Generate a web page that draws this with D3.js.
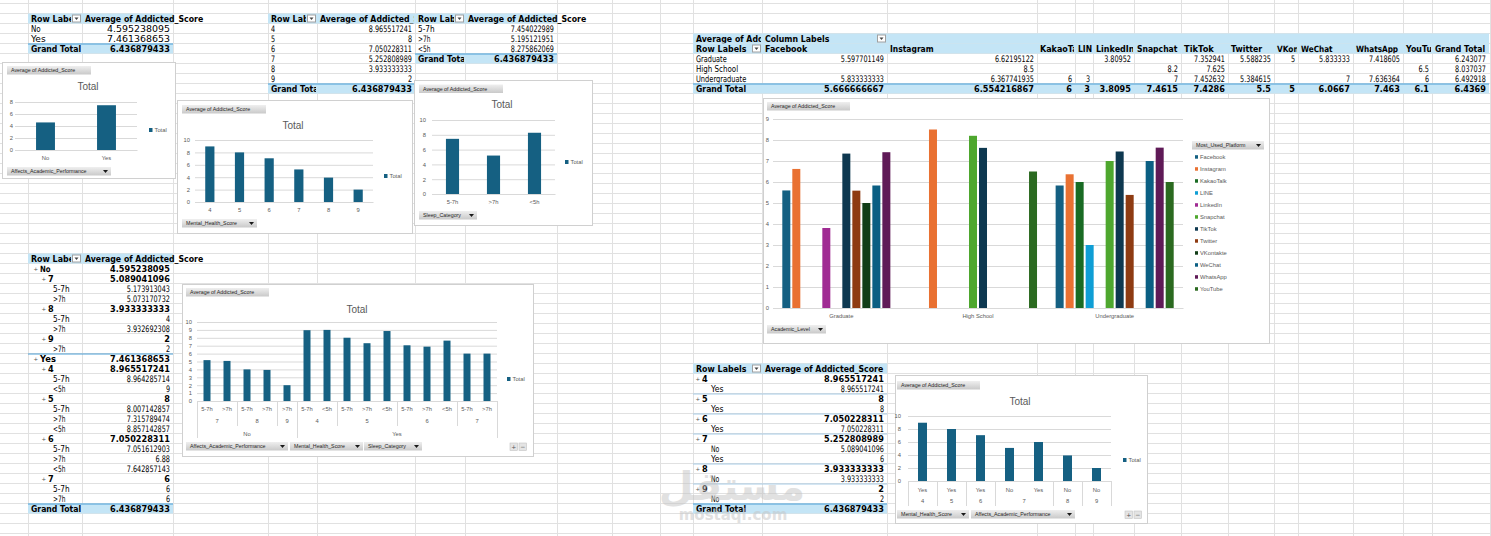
<!DOCTYPE html>
<html>
<head>
<meta charset="utf-8">
<script src="https://cdn.jsdelivr.net/npm/d3@7"></script>
<style>
  body { margin: 0; background: #fff; }
  svg { display: block; }
</style>
</head>
<body>
<div id="sheet"></div>
<script>
const affectsCats = ["No", "Yes"];
const affectsVals = [4.595238095, 7.461368653];

const mentalCats = ["4", "5", "6", "7", "8", "9"];
const mentalVals = [8.965517241, 8, 7.050228311, 5.252808989, 3.933333333, 2];

const sleepCats = ["5-7h", ">7h", "<5h"];
const sleepVals = [7.454022989, 5.195121951, 8.275862069];

const grandTotal = 6.436879433;

const levels = ["Graduate", "High School", "Undergraduate"];
const platforms = ["Facebook", "Instagram", "KakaoTalk", "LINE", "LinkedIn", "Snapchat", "TikTok", "Twitter", "VKontakte", "WeChat", "WhatsApp", "YouTube"];
const gradVals = [5.597701149, 6.62195122, null, null, 3.80952, null, 7.352941, 5.588235, 5, 5.833333, 7.418605, null];
const hsVals = [null, 8.5, null, null, null, 8.2, 7.625, null, null, null, null, 6.5];
const ugVals = [5.833333333, 6.367741935, 6, 3, null, 7, 7.452632, 5.384615, null, 7, 7.636364, 6];
const levelTotals = [6.243077, 8.037037, 6.492918];
const platformTotals = [5.666666667, 6.554216867, 6, 3, 3.8095, 7.4615, 7.4286, 5.5, 5, 6.0667, 7.463, 6.1];
const platformGrand = 6.4369;

// Affects -> Mental -> Sleep
const detailAffects = ["No", "No", "No", "No", "No", "Yes", "Yes", "Yes", "Yes", "Yes", "Yes", "Yes", "Yes", "Yes", "Yes"];
const detailMental = ["7", "7", "8", "8", "9", "4", "4", "5", "5", "5", "6", "6", "6", "7", "7"];
const detailSleep = ["5-7h", ">7h", "5-7h", ">7h", ">7h", "5-7h", "<5h", "5-7h", ">7h", "<5h", "5-7h", ">7h", "<5h", "5-7h", ">7h"];
const detailVals = [5.173913043, 5.073170732, 4, 3.932692308, 2, 8.964285714, 9, 8.007142857, 7.315789474, 8.857142857, 7.051612903, 6.88, 7.642857143, 6, 6];
const subAffects = ["No", "No", "No", "Yes", "Yes", "Yes", "Yes"];
const subMental = ["7", "8", "9", "4", "5", "6", "7"];
const subVals = [5.089041096, 3.933333333, 2, 8.965517241, 8, 7.050228311, 6];

// Mental -> Affects
const byMentalCats = ["4", "5", "6", "7", "7", "8", "9"];
const byMentalAffects = ["Yes", "Yes", "Yes", "No", "Yes", "No", "No"];
const byMentalVals = [8.965517241, 8, 7.050228311, 5.089041096, 6, 3.933333333, 2];

const platformColors = ["#156082", "#e97132", "#196b24", "#0f9ed5", "#a02b93", "#4ea72e",
  "#0e3850", "#8e3b12", "#113d17", "#0b5f83", "#5f1a57", "#2b6a20"];

// ---- page ----
const W = 1491, H = 536, rowH = 10;
const headBlue = "#c4e5f6", lineBlue = "#4d9fd6", lineLight = "#a9cde8";
const barBlue = "#156082", axisGrey = "#595959", gridGrey = "#d9d9d9";

const svg = d3.select("#sheet").append("svg")
  .attr("width", W).attr("height", H)
  .style("font-family", "'DejaVu Sans', sans-serif");
const defs = svg.append("defs");
const grad = defs.append("linearGradient").attr("id", "btnGrad")
  .attr("x1", 0).attr("y1", 0).attr("x2", 0).attr("y2", 1);
grad.append("stop").attr("offset", "0%").attr("stop-color", "#efefef");
grad.append("stop").attr("offset", "100%").attr("stop-color", "#c9c9c9");
let clipN = 0;

// spreadsheet grid
const colLines = [28, 82, 173, 268, 317, 415, 465, 557, 612, 660,
  693, 762, 887, 1037, 1075, 1093, 1134, 1181, 1228, 1274, 1298, 1353, 1403, 1432, 1490];
const grid = svg.append("g").attr("stroke", "#e1e1e1").attr("stroke-width", 1);
grid.selectAll("line.h").data(d3.range(3.5, H, rowH)).join("line")
  .attr("x1", 0).attr("x2", W).attr("y1", d => d).attr("y2", d => d);
grid.selectAll("line.v").data(colLines).join("line")
  .attr("x1", d => d + 0.5).attr("x2", d => d + 0.5).attr("y1", 0).attr("y2", H);

// rough widths of the squeezed cell font
function textW(t, bold, wide) {
  let w = 0;
  for (const ch of t) {
    if (/[0-9]/.test(ch)) w += bold ? 5.7 : (wide ? 6 : 4.1);
    else if (ch === ".") w += bold ? 3 : (wide ? 3 : 2.2);
    else if (ch === " ") w += 3;
    else if (/[iltfjrI|]/.test(ch)) w += bold ? 3.4 : (wide ? 3.4 : 2.8);
    else if (/[mwMW]/.test(ch)) w += bold ? 7 : (wide ? 6.4 : 5.6);
    else w += bold ? 5.3 : (wide ? 4.9 : 4.2);
  }
  return w;
}

function dropDown(g, x, y) {
  g.append("rect").attr("x", x + 0.5).attr("y", y + 1.5).attr("width", 8).attr("height", 7)
    .attr("fill", "#fff").attr("stroke", "#a0a0a0");
  g.append("path").attr("d", `M${x + 2.5},${y + 4}h4l-2,2.5z`).attr("fill", "#444");
}

function drawTable(o) {
  const g = svg.append("g").attr("transform", `translate(${o.x},${o.y})`);
  const colX = [0];
  o.cols.forEach(w => colX.push(colX[colX.length - 1] + w));
  const totalW = colX[colX.length - 1];
  o.rows.forEach((r, i) => {
    const y = i * rowH;
    const bold = r.kind !== "data";
    if (r.kind === "head" || r.kind === "total")
      g.append("rect").attr("x", 0).attr("y", y).attr("width", totalW).attr("height", rowH).attr("fill", headBlue);
    if (r.line)
      g.append("line").attr("x1", 0).attr("x2", totalW).attr("y1", y + 0.5).attr("y2", y + 0.5)
        .attr("stroke", r.line).attr("stroke-width", 1.2);
    r.cells.forEach((c, j) => {
      if (c === null || c === undefined || c === "") return;
      const cell = typeof c === "object" ? c : { t: c };
      const isNum = typeof cell.t === "number";
      const txt = String(cell.t);
      const w = textW(txt, bold, o.wide);
      const ind = j === 0 ? (r.indent || 0) : 0;
      const tx = isNum ? colX[j + 1] - 3 - w : colX[j] + 3 + ind;
      const holder = g.append("g");
      const t = holder.append("text").attr("x", 0).attr("y", 0)
        .attr("font-size", bold ? 8.5 : 9).attr("font-weight", bold ? "bold" : "normal")
        .attr("fill", "#000").text(txt);
      // squeeze the glyphs to the width the sheet shows
      const natural = t.node().getComputedTextLength() || w;
      t.attr("transform", `translate(${tx},${y + 8}) scale(${w / natural},1)`);
      if (cell.clip) {
        const id = "clip" + (clipN++);
        defs.append("clipPath").attr("id", id).append("rect")
          .attr("x", colX[j]).attr("y", y)
          .attr("width", colX[j + 1] - colX[j] - (cell.dd ? 11 : 1)).attr("height", rowH);
        holder.attr("clip-path", `url(#${id})`);
      }
      if (cell.dd) dropDown(g, colX[j + 1] - 10, y);
      if (j === 0 && r.plus)
        g.append("text").attr("x", tx - 6.5).attr("y", y + 7).attr("font-size", 5.5)
          .attr("fill", "#555").text("+");
    });
  });
}

// ---- pivot tables ----
drawTable({
  x: 28, y: 13.5, cols: [54, 91], wide: true,
  rows: [
    { kind: "head", cells: [{ t: "Row Labels", clip: true, dd: true }, "Average of Addicted_Score"] },
    ...affectsCats.map((c, i) => ({ kind: "data", cells: [c, affectsVals[i]] })),
    { kind: "total", line: lineBlue, cells: [{ t: "Grand Total", clip: true }, grandTotal] }
  ]
});

drawTable({
  x: 268, y: 13.5, cols: [49, 98],
  rows: [
    { kind: "head", cells: [{ t: "Row Labels", clip: true, dd: true }, { t: "Average of Addicted_Score", clip: true }] },
    ...mentalCats.map((c, i) => ({ kind: "data", cells: [c, mentalVals[i]] })),
    { kind: "total", line: lineBlue, cells: [{ t: "Grand Total", clip: true }, grandTotal] }
  ]
});

drawTable({
  x: 415, y: 13.5, cols: [50, 92],
  rows: [
    { kind: "head", cells: [{ t: "Row Labels", clip: true, dd: true }, "Average of Addicted_Score"] },
    ...sleepCats.map((c, i) => ({ kind: "data", cells: [c, sleepVals[i]] })),
    { kind: "total", line: lineBlue, cells: [{ t: "Grand Total", clip: true }, grandTotal] }
  ]
});

const levelRows = [gradVals, hsVals, ugVals];
drawTable({
  x: 693, y: 33.5, cols: [69, 125, 150, 38, 18, 41, 47, 47, 46, 24, 55, 50, 29, 57],
  rows: [
    { kind: "head", cells: [{ t: "Average of Addicted_Score", clip: true }, { t: "Column Labels", dd: true }] },
    { kind: "head", cells: [{ t: "Row Labels", dd: true }, ...platforms.map(p => ({ t: p, clip: true })), "Grand Total"] },
    ...levels.map((l, i) => ({ kind: "data", cells: [l, ...levelRows[i], levelTotals[i]] })),
    { kind: "total", line: lineBlue, cells: ["Grand Total", ...platformTotals, platformGrand] }
  ]
});

const t5 = [{ kind: "head", cells: [{ t: "Row Labels", clip: true, dd: true }, "Average of Addicted_Score"] }];
affectsCats.forEach((a, ai) => {
  t5.push({ kind: "group", indent: 9, plus: true, line: ai ? lineBlue : null, cells: [a, affectsVals[ai]] });
  subMental.forEach((m, si) => {
    if (subAffects[si] !== a) return;
    t5.push({ kind: "group", indent: 17, plus: true, cells: [m, subVals[si]] });
    detailVals.forEach((v, di) => {
      if (detailAffects[di] === a && detailMental[di] === m)
        t5.push({ kind: "data", indent: 22, cells: [detailSleep[di], v] });
    });
  });
});
t5.push({ kind: "total", line: lineBlue, cells: [{ t: "Grand Total", clip: true }, grandTotal] });
drawTable({ x: 28, y: 253.5, cols: [54, 91], rows: t5 });

const t6 = [{ kind: "head", cells: [{ t: "Row Labels", dd: true }, "Average of Addicted_Score"] }];
mentalCats.forEach((m, mi) => {
  t6.push({ kind: "group", indent: 6, plus: true, line: mi ? lineLight : null, cells: [m, mentalVals[mi]] });
  byMentalCats.forEach((c, k) => {
    if (c === m) t6.push({ kind: "data", indent: 15, cells: [byMentalAffects[k], byMentalVals[k]] });
  });
});
t6.push({ kind: "total", line: lineBlue, cells: ["Grand Total", grandTotal] });
drawTable({ x: 693, y: 363.5, cols: [69, 125], rows: t6 });

// ---- pivot charts ----
function button(x, y, w, label, dd) {
  const g = svg.append("g");
  g.append("rect").attr("x", x).attr("y", y).attr("width", w).attr("height", 8.5).attr("fill", "url(#btnGrad)");
  g.append("text").attr("x", x + 4).attr("y", y + 6.2)
    .attr("font-family", "'Liberation Sans', sans-serif").attr("font-size", 5.3)
    .attr("fill", "#262626").text(label);
  if (dd) g.append("path").attr("d", `M${x + w - 8},${y + 3}h5l-2.5,3z`).attr("fill", "#1a1a1a");
}

function chartFrame(o) {
  const [bx, by, bw, bh] = o.box;
  svg.append("rect").attr("x", bx + 0.5).attr("y", by + 0.5).attr("width", bw).attr("height", bh)
    .attr("fill", "#fff").attr("stroke", "#d0d0d0");
  const g = svg.append("g").style("font-family", "'Liberation Sans', sans-serif");
  const [x0, x1, yTop, yBot] = o.plot;
  const y = d3.scaleLinear().domain([0, o.max]).range([yBot, yTop]);
  g.append("g").attr("transform", `translate(${x0},0)`)
    .call(d3.axisLeft(y).tickValues(d3.range(0, o.max + 0.01, o.step))
      .tickSize(-(x1 - x0)).tickPadding(o.tickPad).tickFormat(d3.format("d")))
    .call(a => a.select(".domain").remove())
    .call(a => a.selectAll("line").attr("stroke", gridGrey))
    .call(a => a.selectAll("text").attr("fill", axisGrey).attr("font-size", 5.8)
      .attr("font-family", "'Liberation Sans', sans-serif"));
  if (o.title)
    g.append("text").attr("x", o.title[0]).attr("y", o.title[1]).attr("text-anchor", "middle")
      .attr("font-size", 10).attr("fill", axisGrey).text("Total");
  if (o.legend) {
    g.append("rect").attr("x", o.legend[0]).attr("y", o.legend[1] - 2).attr("width", 3.5).attr("height", 4)
      .attr("fill", barBlue);
    g.append("text").attr("x", o.legend[0] + 5.5).attr("y", o.legend[1] + 2)
      .attr("font-size", 5.8).attr("fill", axisGrey).text("Total");
  }
  return { g, y };
}

function simpleBars(o) {
  const { g, y } = chartFrame(o);
  const [x0, x1, , yBot] = o.plot;
  const x = d3.scaleBand().domain(d3.range(o.cats.length)).range([x0, x1])
    .paddingInner(o.pad).paddingOuter(o.pad / 2);
  g.append("g").selectAll("rect").data(o.vals).join("rect")
    .attr("x", (d, i) => x(i)).attr("width", x.bandwidth())
    .attr("y", d => y(d)).attr("height", d => yBot - y(d)).attr("fill", barBlue);
  if (!o.multi) {
    g.append("g").attr("transform", `translate(0,${yBot})`)
      .call(d3.axisBottom(x).tickSize(0).tickSizeOuter(0).tickPadding(6).tickFormat(i => o.cats[i]))
      .call(a => a.select(".domain").attr("stroke", gridGrey))
      .call(a => a.selectAll("text").attr("fill", axisGrey).attr("font-size", 5.8)
        .attr("font-family", "'Liberation Sans', sans-serif"));
  } else {
    multiAxis(g, x, yBot, o.multi, o.rowBottoms, o.labelYs);
  }
  return { g, x, y };
}

// multi-level category axis, innermost level first
function multiAxis(g, x, yAxis, levelsArr, rowBottoms, labelYs) {
  const n = levelsArr[0].length;
  const gap = (x.step() - x.bandwidth()) / 2;
  const bound = i => (i >= n ? x.range()[1] : x(i) - gap);
  const last = rowBottoms[rowBottoms.length - 1];
  g.append("line").attr("x1", x.range()[0]).attr("x2", x.range()[1]).attr("y1", yAxis + 0.5).attr("y2", yAxis + 0.5)
    .attr("stroke", gridGrey);
  levelsArr.forEach((labels, k) => {
    const key = i => levelsArr.slice(k).map(l => l[i]).join("|");
    let start = 0;
    for (let i = 1; i <= n; i++) {
      if (i === n || key(i) !== key(start)) {
        g.append("text").attr("x", (bound(start) + bound(i)) / 2).attr("y", labelYs[k])
          .attr("text-anchor", "middle").attr("font-size", 5.8).attr("fill", axisGrey).text(labels[start]);
        if (k > 0 && i < n)
          g.append("line").attr("x1", bound(i) + 0.5).attr("x2", bound(i) + 0.5)
            .attr("y1", yAxis).attr("y2", rowBottoms[k]).attr("stroke", gridGrey);
        start = i;
      }
    }
  });
  [bound(0), bound(n)].forEach(xx =>
    g.append("line").attr("x1", xx + 0.5).attr("x2", xx + 0.5).attr("y1", yAxis).attr("y2", last).attr("stroke", gridGrey));
}

// Affects_Academic_Performance
simpleBars({
  box: [2, 62, 173, 116], plot: [15, 137, 102, 150], max: 8, step: 2, tickPad: 2,
  pad: 0.69, cats: affectsCats, vals: affectsVals, title: [88, 89.5], legend: [149, 130]
});
button(7, 66, 84, "Average of Addicted_Score");
button(7, 167, 104, "Affects_Academic_Performance", true);

// Mental_Health_Score
simpleBars({
  box: [177, 100, 235, 133], plot: [195, 373, 140, 202], max: 10, step: 2, tickPad: 5,
  pad: 0.69, cats: mentalCats, vals: mentalVals, title: [293, 128.5], legend: [384, 176]
});
button(182, 105, 84, "Average of Addicted_Score");
button(182, 219, 75, "Mental_Health_Score", true);

// Sleep_Category
simpleBars({
  box: [414, 80, 178, 145], plot: [432, 555, 120, 194], max: 10, step: 2, tickPad: 6,
  pad: 0.68, cats: sleepCats, vals: sleepVals, title: [502, 107.5], legend: [565, 162]
});
button(419, 84.5, 84, "Average of Addicted_Score");
button(419, 211, 58, "Sleep_Category", true);

// Academic_Level x Most_Used_Platform
{
  const o = { box: [763, 98, 506, 245], plot: [773, 1183, 119, 308], max: 9, step: 1, tickPad: 4 };
  const { g, y } = chartFrame(o);
  const xa = d3.scaleBand().domain(levels).range([o.plot[0], o.plot[1]]);
  const xb = d3.scaleBand().domain(platforms).range([0, xa.bandwidth()]).paddingInner(0.2).paddingOuter(0.93);
  const color = d3.scaleOrdinal().domain(platforms).range(platformColors);
  const cells = [];
  levels.forEach((l, i) => platforms.forEach((p, j) => {
    if (levelRows[i][j] !== null) cells.push({ l, p, v: levelRows[i][j] });
  }));
  g.append("g").selectAll("rect").data(cells).join("rect")
    .attr("x", d => xa(d.l) + xb(d.p)).attr("width", xb.bandwidth())
    .attr("y", d => y(d.v)).attr("height", d => o.plot[3] - y(d.v)).attr("fill", d => color(d.p));
  g.append("g").attr("transform", `translate(0,${o.plot[3]})`)
    .call(d3.axisBottom(xa).tickSize(0).tickSizeOuter(0).tickPadding(6))
    .call(a => a.select(".domain").attr("stroke", gridGrey))
    .call(a => a.selectAll("text").attr("fill", axisGrey).attr("font-size", 5.8)
      .attr("font-family", "'Liberation Sans', sans-serif"));
  const lg = g.append("g").selectAll("g").data(platforms).join("g")
    .attr("transform", (d, i) => `translate(1195,${157 + i * 12})`);
  lg.append("rect").attr("x", 0).attr("y", -1.8).attr("width", 3).attr("height", 3.5).attr("fill", d => color(d));
  lg.append("text").attr("x", 5).attr("y", 2).attr("font-size", 5.8).attr("fill", axisGrey).text(d => d);
}
button(767, 102, 83, "Average of Addicted_Score");
button(767, 325, 59, "Academic_Level", true);
button(1192, 141, 72, "Most_Used_Platform", true);

// Affects -> Mental -> Sleep
simpleBars({
  box: [182, 284, 351, 172], plot: [197, 497, 322, 401], max: 10, step: 1, tickPad: 5,
  pad: 0.65, cats: detailSleep, vals: detailVals, title: [357, 312.5], legend: [507, 379],
  multi: [detailSleep, detailMental, detailAffects], rowBottoms: [415, 426, 438], labelYs: [411, 423, 436]
});
button(186, 288, 83, "Average of Addicted_Score");
button(186, 442, 102, "Affects_Academic_Performance", true);
button(290, 442, 73, "Mental_Health_Score", true);
button(364, 442, 58, "Sleep_Category", true);
["+", "\u2212"].forEach((s, i) => {
  svg.append("rect").attr("x", 510 + i * 9).attr("y", 443).attr("width", 7.5).attr("height", 7.5)
    .attr("fill", "#e4e4e4").attr("stroke", "#c4c4c4").attr("stroke-width", 0.6);
  svg.append("text").attr("x", 513.8 + i * 9).attr("y", 449).attr("text-anchor", "middle")
    .attr("font-size", 6).attr("fill", "#555").text(s);
});

// Mental -> Affects
simpleBars({
  box: [895, 375, 252, 148], plot: [908, 1111, 416, 481], max: 10, step: 2, tickPad: 7,
  pad: 0.69, cats: byMentalAffects, vals: byMentalVals, title: [1020, 404.5], legend: [1123, 460],
  multi: [byMentalAffects, byMentalCats], rowBottoms: [496, 506], labelYs: [492, 503]
});
button(897, 381, 83, "Average of Addicted_Score");
button(897, 510, 72, "Mental_Health_Score", true);
button(971, 510, 104, "Affects_Academic_Performance", true);
["+", "\u2212"].forEach((s, i) => {
  svg.append("rect").attr("x", 1125 + i * 9).attr("y", 511).attr("width", 7.5).attr("height", 7.5)
    .attr("fill", "#e4e4e4").attr("stroke", "#c4c4c4").attr("stroke-width", 0.6);
  svg.append("text").attr("x", 1128.8 + i * 9).attr("y", 517).attr("text-anchor", "middle")
    .attr("font-size", 6).attr("fill", "#555").text(s);
});

// watermark
const wm = svg.append("g").attr("fill", "#c4c4c4").attr("opacity", 0.5).attr("text-anchor", "middle");
wm.append("text").attr("x", 732).attr("y", 500).attr("font-size", 40).attr("font-weight", "bold").text("مستقل");
wm.append("text").attr("x", 733).attr("y", 520).attr("font-size", 15).attr("font-weight", "bold").text("mostaql.com");
</script>
</body>
</html>
